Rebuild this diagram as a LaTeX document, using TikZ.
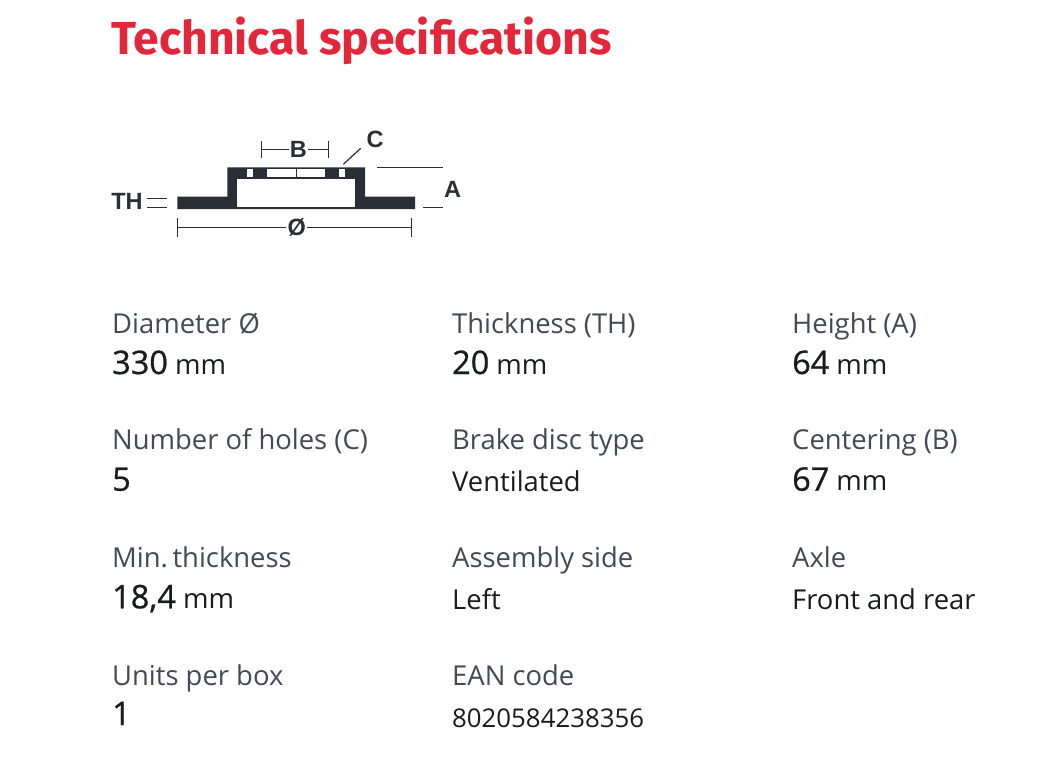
\documentclass[tikz,border=0pt]{standalone}
\usepackage{fontspec}
\setmainfont{Open Sans}
\newfontfamily\headfont{Fira Sans}
\newfontface\numfont[FakeBold=0.7]{Open Sans}
\newfontfamily\dfont{Liberation Sans}
\definecolor{brred}{HTML}{E3263A}
\definecolor{lblgray}{HTML}{434955}
\definecolor{valblack}{HTML}{1A1B1F}
\definecolor{dgray}{HTML}{2B2E36}
\begin{document}
\begin{tikzpicture}[x=1pt,y=-1pt,
  lbl/.style={anchor=base west,inner sep=0pt,text=lblgray,font=\fontsize{27.4}{32}\selectfont},
  val/.style={anchor=base west,inner sep=0pt,text=valblack,font=\fontsize{27.4}{32}\selectfont},
  dimlbl/.style={inner sep=1pt,text=dgray,font=\dfont\bfseries\fontsize{23.5}{25}\selectfont},
  dimline/.style={draw=dgray,line width=1.4pt},
  thinline/.style={draw=dgray,line width=1.2pt},
  hole/.style={fill=white}]
\useasboundingbox[fill=white] (0,0) rectangle (1062,758);
% heading
\node[anchor=base west,inner sep=0pt,text=brred,font=\headfont\fontsize{46.3}{52}\bfseries\selectfont] (title) at (111,54) {Technical specifications};
% ---------- diagram ----------
\fill[dgray] (177.3,196.7) -- (227.3,196.7) -- (227.3,167.3) -- (365,167.3) -- (365,196.7) -- (415,196.7) -- (415,209) -- (177.3,209) -- cycle;
\fill[hole] (236.7,179.3) rectangle (355.3,207.3);
\fill[hole] (246.7,169.3) rectangle (252.7,176.7);
\fill[hole] (266.7,169.3) rectangle (295.5,176.7);
\fill[hole] (296.7,169.3) rectangle (325,176.7);
\fill[hole] (339.3,169.3) rectangle (345,176.7);
% B dimension
\node[dimlbl] (B) at (298.3,149.3) {B};
\coordinate (bl) at (261.7,149.3);
\coordinate (br) at (328.3,149.3);
\draw[dimline] (261.7,141) -- (261.7,157.5);
\draw[dimline] (328.3,141) -- (328.3,157.5);
\draw[dimline] (bl) -- (B.west);
\draw[dimline] (B.east) -- (br);
% C leader
\node[dimlbl] (C) at (375,139.5) {C};
\coordinate (cpt) at (343.3,164.3);
\draw[thinline] (cpt) -- (360.7,148.3);
% A dimension
\node[dimlbl] (A) at (452.7,189.3) {A};
\coordinate (atop1) at (377.3,167.7);
\coordinate (atop2) at (442.7,167.7);
\coordinate (abot1) at (423.3,207.7);
\coordinate (abot2) at (442.7,207.7);
\draw[thinline] (atop1) -- (atop2);
\draw[thinline] (abot1) -- (abot2);
% TH
\node[dimlbl,anchor=east] (TH) at (143.8,201.7) {TH};
\coordinate (th1a) at (146.7,198.3);
\coordinate (th1b) at (166.7,198.3);
\coordinate (th2a) at (146.7,207.7);
\coordinate (th2b) at (166.7,207.7);
\draw[thinline] (th1a) -- (th1b);
\draw[thinline] (th2a) -- (th2b);
% diameter
\node[dimlbl] (D) at (296.7,227.7) {Ø};
\coordinate (dl) at (177.7,227.7);
\coordinate (dr) at (411.7,227.7);
\draw[dimline] (177.7,218.3) -- (177.7,237.3);
\draw[dimline] (411.7,218.3) -- (411.7,237.3);
\draw[dimline] (dl) -- (D.west);
\draw[dimline] (D.east) -- (dr);
% ---------- specs ----------
\newcommand{\bignum}[1]{{\numfont\fontsize{32.5}{38}\selectfont #1}}
% row 1
\node[lbl] (l11) at (112,333.3) {Diameter Ø};
\node[val] (v11) at (112,374) {\bignum{330} mm};
\node[lbl] (l12) at (452,333.3) {Thickness (TH)};
\node[val] (v12) at (452,374) {\bignum{20} mm};
\node[lbl] (l13) at (792,333.3) {Height (A)};
\node[val] (v13) at (792,374) {\bignum{64} mm};
% row 2
\node[lbl] (l21) at (112,449.3) {Number of holes (C)};
\node[val] (v21) at (112,490.7) {\bignum{5}};
\node[lbl] (l22) at (452,449.3) {Brake disc type};
\node[val] (v22) at (452,491.7) {Ventilated};
\node[lbl] (l23) at (792,449.3) {Centering (B)};
\node[val] (v23) at (792,490.7) {\bignum{67} mm};
% row 3
\node[lbl] (l31) at (112,567.3) {Min.\,thickness};
\node[val] (v31) at (112,608.3) {\bignum{18,4} mm};
\node[lbl] (l32) at (452,567.3) {Assembly side};
\node[val] (v32) at (452,609.5) {Left};
\node[lbl] (l33) at (792,567.3) {Axle};
\node[val] (v33) at (792,609.5) {Front and rear};
% row 4
\node[lbl] (l41) at (112,685.5) {Units per box};
\node[val] (v41) at (112,725) {\bignum{1}};
\node[lbl] (l42) at (452,685.5) {EAN code};
\node[val,font=\fontsize{25.8}{30}\selectfont] (v42) at (452,727) {8020584238356};
\end{tikzpicture}
\end{document}
